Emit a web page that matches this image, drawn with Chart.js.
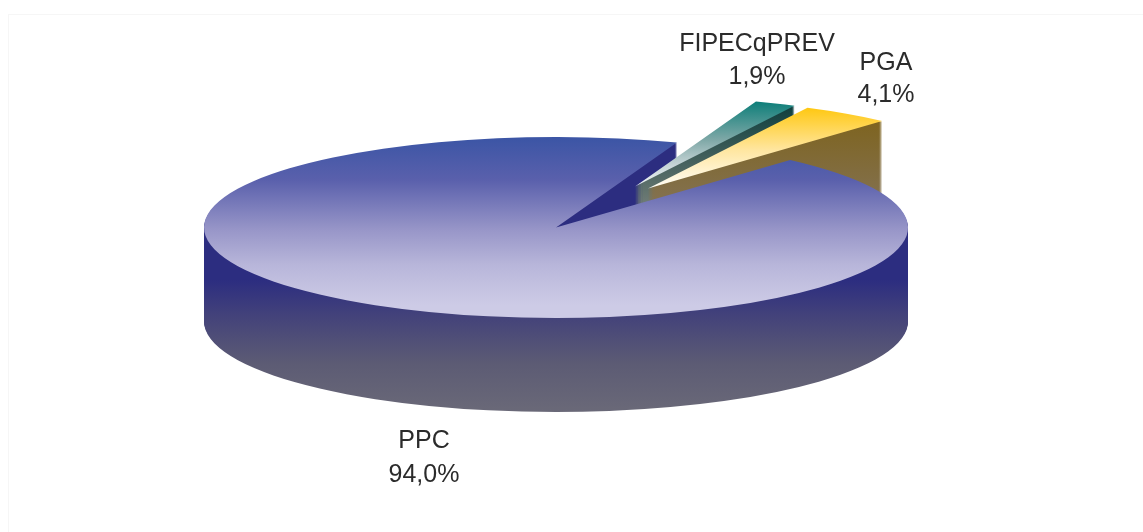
<!DOCTYPE html>
<html>
<head>
<meta charset="utf-8">
<title>Pie</title>
<script src="https://cdn.jsdelivr.net/npm/chart.js@4/dist/chart.umd.js"></script>
<style>
    html, body { margin: 0; padding: 0; background: #fff; }
    canvas { display: block; }
</style>
</head>
<body>
<canvas id="chart" width="1143" height="532"></canvas>
<script>
const categories = ['PPC', 'FIPECqPREV', 'PGA'];
const shares = [94.0, 1.9, 4.1];

// Label centre and the two baselines, one entry per category
const labelSpots = [[424, 448, 482], [757, 51, 84], [886, 70, 102]];

// How far each slice is pulled out of the pie, in pixels
const sliceShift = [[0, 0], [79, -41], [92, -39]];

// Gradients as [screen y, colour]
const topColors = [
    [[137, '#3b55a5'], [180, '#5a60ac'], [230, '#9896c8'], [265, '#b8b6da'], [305, '#cdcbe6'], [318, '#cdcbe6']],
    [[102, '#0f7f7a'], [140, '#7fa8a7'], [165, '#c6d4d6'], [187, '#f1f5f7']],
    [[108, '#ffc812'], [150, '#ffe6a0'], [188, '#fffdf6']]
];
const wallColors = [
    [[280, '#2c2d80'], [317, '#44437a'], [363, '#5c5b74'], [412, '#6a6978']],
    [[106, '#0f3f3e'], [205, '#707c76']],
    [[122, '#7e6420'], [200, '#83714f']]
];

const pieX = 556;
const pieY = 227.5;
const radiusX = 352;
const radiusY = 90.5;
const depth = 94;

// Gradient that stays fixed on screen whatever transform is active
function screenGradient(ctx, stops) {
    const inv = ctx.getTransform().inverse();
    const first = stops[0][0];
    const last = stops[stops.length - 1][0];
    const a = inv.transformPoint({x: 0, y: first});
    const b = inv.transformPoint({x: 0, y: last});
    const grad = ctx.createLinearGradient(a.x, a.y, b.x, b.y);
    for (const [y, color] of stops) {
        grad.addColorStop((y - first) / (last - first), color);
    }
    return grad;
}

// Paint one arc element flattened onto the pie plane, dy pixels below it
function paintArc(ctx, arc, index, dy, stops) {
    const saved = arc.options;
    ctx.save();
    ctx.translate(pieX + sliceShift[index][0], pieY + sliceShift[index][1] + dy);
    ctx.scale(1, radiusY / radiusX);
    ctx.translate(-arc.x, -arc.y);
    arc.options = Object.assign({}, saved, {
        backgroundColor: screenGradient(ctx, stops),
        borderWidth: 0
    });
    arc.draw(ctx);
    arc.options = saved;
    ctx.restore();
}

function paintWall(ctx, arc, index) {
    for (let dy = depth; dy > 0; dy--) {
        paintArc(ctx, arc, index, dy, wallColors[index]);
    }
}

const tiltedPie = {
    id: 'tiltedPie',
    beforeDraw(chart) {
        // faint frame along the top and left
        const ctx = chart.ctx;
        ctx.fillStyle = '#f6f6f6';
        ctx.fillRect(8, 14, 1135, 1);
        ctx.fillRect(8, 14, 1, 518);
    },
    beforeDatasetsDraw(chart) {
        const ctx = chart.ctx;
        const arcs = chart.getDatasetMeta(0).data;

        // the big slice's top goes last, it hides the feet of the pulled out ones
        paintWall(ctx, arcs[0], 0);
        for (const i of [1, 2]) {
            paintWall(ctx, arcs[i], i);
            paintArc(ctx, arcs[i], i, 0, topColors[i]);
        }
        paintArc(ctx, arcs[0], 0, 0, topColors[0]);
        return false;
    },
    afterDraw(chart) {
        const ctx = chart.ctx;
        ctx.save();
        ctx.font = '25px "Liberation Sans", Arial, sans-serif';
        ctx.fillStyle = '#2b2b2b';
        ctx.textAlign = 'center';
        categories.forEach((name, i) => {
            const [x, y1, y2] = labelSpots[i];
            ctx.fillText(name, x, y1);
            ctx.fillText(shares[i].toFixed(1).replace('.', ',') + '%', x, y2);
        });
        ctx.restore();
    }
};

document.addEventListener("DOMContentLoaded", function () {
    const ctx = document.getElementById('chart').getContext('2d');
    new Chart(ctx, {
        type: 'pie',
        data: {
            labels: categories,
            datasets: [{
                data: shares,
                backgroundColor: ['#4f5ba8', '#0f7f7a', '#ffc812'],
                borderWidth: 0,
                radius: radiusX
            }]
        },
        options: {
            responsive: false,
            animation: false,
            rotation: 41.7,
            events: [],
            plugins: {
                legend: { display: false },
                tooltip: { enabled: false }
            }
        },
        plugins: [tiltedPie]
    });
});
</script>
</body>
</html>
